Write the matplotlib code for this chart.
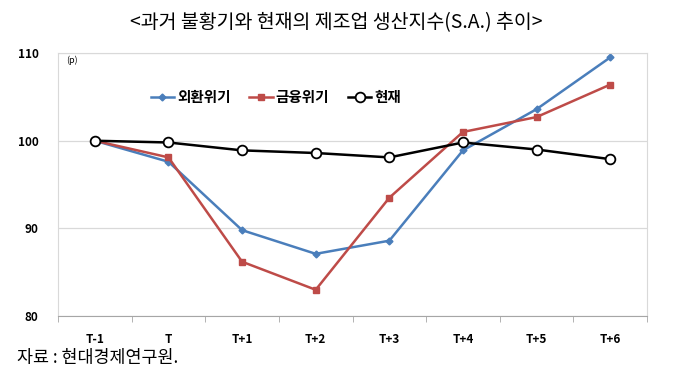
import matplotlib
matplotlib.use("Agg")
import matplotlib.pyplot as plt
import numpy as np

plt.rcParams['font.family'] = ['Noto Sans CJK KR', 'DejaVu Sans']

########## Data
periods = ["T-1", "T", "T+1", "T+2", "T+3", "T+4", "T+5", "T+6"]
fx_crisis = [100.0, 97.6, 89.8, 87.1, 88.6, 98.9, 103.6, 109.5]
fin_crisis = [100.0, 98.1, 86.2, 83.0, 93.5, 101.0, 102.7, 106.4]
current = [100.0, 99.8, 98.9, 98.6, 98.1, 99.8, 99.0, 97.9]
y_ticks = [80, 90, 100, 110]

########## Figure
fig = plt.figure(figsize=(6.77, 3.71), dpi=100)
ax = fig.add_axes([0.0857, 0.148, 0.870, 0.709])

x = np.arange(len(periods))

ax.plot(x, fx_crisis, color="#4A7EBB", lw=1.8, marker="D", ms=3.5,
        label="외환위기")
ax.plot(x, fin_crisis, color="#BE4B48", lw=1.8, marker="s", ms=4.5,
        label="금융위기")
ax.plot(x, current, color="black", lw=1.8, marker="o", ms=7,
        mfc="white", mec="black", mew=1.3, label="현재")

########## Axes
ax.set_xlim(-0.5, len(periods) - 0.5)
ax.set_ylim(80, 110)
ax.set_yticks(y_ticks)
ax.set_yticklabels([str(v) for v in y_ticks], fontsize=8.5, fontweight="bold")
ax.set_xticks(x)
ax.set_xticklabels(periods, fontsize=8.5, fontweight="bold")
ax.tick_params(axis="x", which="major", length=0, pad=12)
ax.set_xticks(np.arange(-0.5, len(periods), 1), minor=True)
ax.tick_params(axis="x", which="minor", length=4, color="#a6a6a6")
ax.tick_params(axis="y", length=0, pad=14)

ax.grid(axis="y", color="#d9d9d9", lw=0.9)
ax.set_axisbelow(True)
for side in ["left", "right", "top"]:
    ax.spines[side].set_color("#d9d9d9")
ax.spines["bottom"].set_color("#a6a6a6")

ax.text(0.013, 0.99, "(p)", transform=ax.transAxes, fontsize=6.5,
        va="top", ha="left")

ax.legend(loc="center", bbox_to_anchor=(0.37, 0.833), ncol=3, frameon=False,
          handlelength=1.6, handletextpad=0.2, columnspacing=1.3,
          prop={"weight": "bold", "size": 10.5})

fig.text(0.497, 0.94, "<과거 불황기와 현재의 제조업 생산지수(S.A.) 추이>",
         ha="center", va="center", fontsize=14)
fig.text(0.025, 0.035, "자료 : 현대경제연구원.", ha="left", va="center",
         fontsize=12.5)

fig.savefig("out.png", dpi=100)
